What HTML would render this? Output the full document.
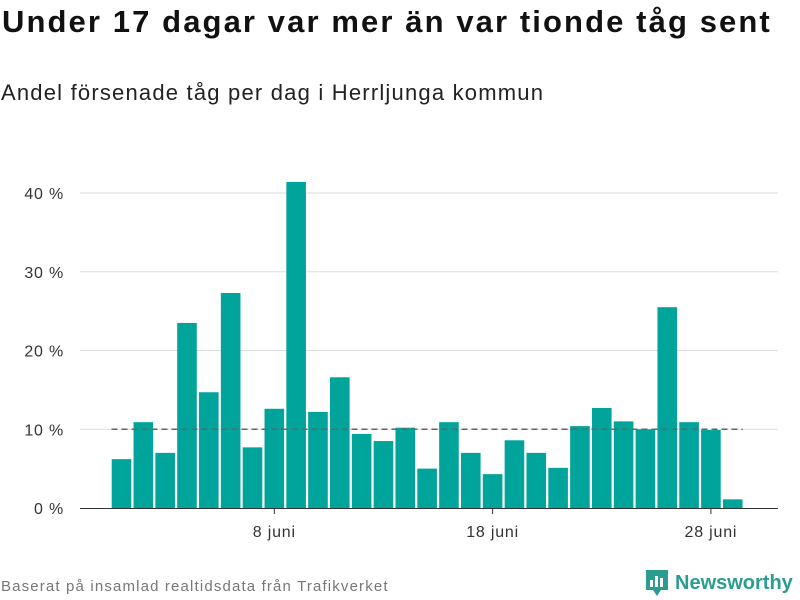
<!DOCTYPE html>
<html><head><meta charset="utf-8"><style>
body{margin:0;background:#fff;font-family:"Liberation Sans",sans-serif;}
#wrap{position:relative;width:800px;height:600px;overflow:hidden}
</style></head><body>
<div id="wrap">
<div style="position:absolute;left:2px;top:4px;font-size:31px;font-weight:bold;color:#111;letter-spacing:2.1px">Under 17 dagar var mer än var tionde tåg sent</div>
<div style="position:absolute;left:1px;top:80px;font-size:22px;color:#222;letter-spacing:1.2px">Andel försenade tåg per dag i Herrljunga kommun</div>
<svg id="chart" width="800" height="600" style="position:absolute;left:0;top:0"></svg>
<div style="position:absolute;left:1px;top:578px;font-size:15px;color:#777;letter-spacing:1.15px">Baserat på insamlad realtidsdata från Trafikverket</div>
<div style="position:absolute;left:645px;top:569px;display:flex;align-items:center">
<svg width="24" height="28"><path d="M1 1h22v20h-7l-4 6-4-6H1z" fill="#2a9d8f"/><rect x="5" y="11" width="3" height="7" fill="#fff"/><rect x="10" y="7" width="3" height="11" fill="#fff"/><rect x="15" y="9" width="3" height="9" fill="#fff"/></svg>
<span style="font-size:20px;font-weight:bold;color:#2a9d8f;margin-left:6px">Newsworthy</span></div>
</div>
<script>
const days=[1,2,3,4,5,6,7,8,9,10,11,12,13,14,15,16,17,18,19,20,21,22,23,24,25,26,27,28,29];
const values=[6.2,10.9,7.0,23.5,14.7,27.3,7.7,12.6,41.4,12.2,16.6,9.4,8.5,10.2,5.0,10.9,7.0,4.3,8.6,7.0,5.1,10.4,12.7,11.0,10.0,25.5,10.9,9.9,1.1];
const yTicks=[0,10,20,30,40];
const xTickDays=[8,18,28];
const xTickLabels=["8 juni","18 juni","28 juni"];
const threshold=10;
const svg=document.getElementById('chart');const NS='http://www.w3.org/2000/svg';
function y(v){return 508-v*7.875;}
function x(d){return 121.5+(d-1)*21.83;}
function mk(t,a,p){const e=document.createElementNS(NS,t);for(const k in a)e.setAttribute(k,a[k]);(p||svg).appendChild(e);return e;}
yTicks.forEach((t,i)=>{
 if(t>0){const g=mk('line',{x1:80,x2:778,y1:y(t),y2:y(t),stroke:'#ddd','stroke-width':1});
 
 }
 const l=mk('text',{x:64,y:y(t)+6,'text-anchor':'end','font-size':16,fill:'#333','font-family':'Liberation Sans','letter-spacing':'0.8'});
 l.textContent=t+' %';
 
 
});
days.forEach((d,i)=>{
 const b=mk('rect',{x:x(d)-9.8,y:y(values[i]),width:19.6,height:508-y(values[i]),fill:'#00a49a'});
 
 
});
const ax=mk('line',{x1:80,x2:778,y1:508.5,y2:508.5,stroke:'#333','stroke-width':1});


xTickDays.forEach((d,i)=>{
 const tk=mk('line',{x1:x(d),x2:x(d),y1:508,y2:514,stroke:'#333'});
 
 
 const l=mk('text',{x:x(d),y:537,'text-anchor':'middle','font-size':16,fill:'#333','font-family':'Liberation Sans','letter-spacing':'0.8'});
 l.textContent=xTickLabels[i];
 
 
});
const th=mk('line',{x1:x(days[0])-10,x2:x(days[days.length-1])+10,y1:y(threshold),y2:y(threshold),stroke:'#666','stroke-width':1.5,'stroke-dasharray':'6,4'});


</script>
</body></html>
